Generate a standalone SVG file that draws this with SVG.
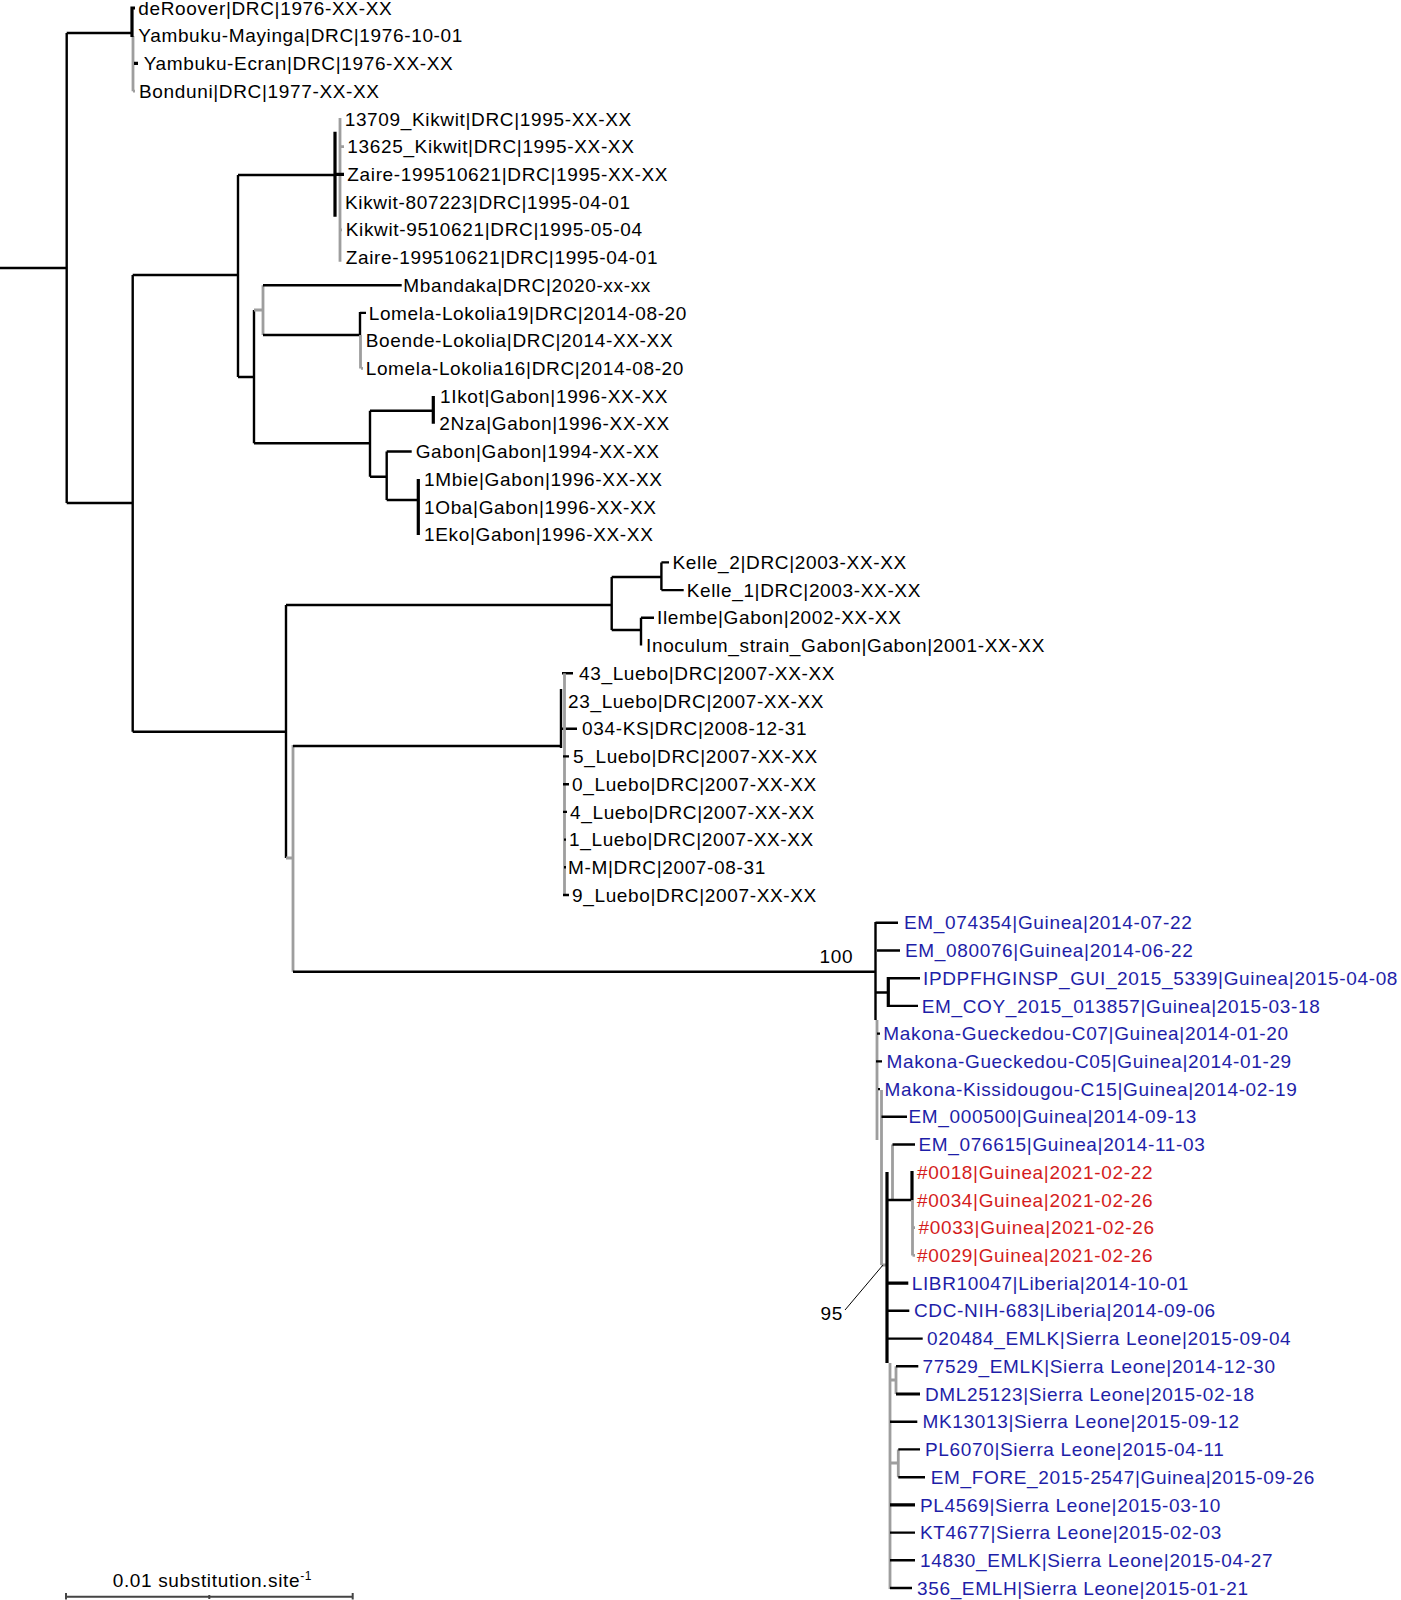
<svg xmlns="http://www.w3.org/2000/svg" width="1401" height="1600" viewBox="0 0 1401 1600">
<style>
text{font-family:"Liberation Sans",Arial,sans-serif;font-size:19px;letter-spacing:0.65px;fill:#000}
.b{fill:#1e1ea8}
.r{fill:#d41c1c}
.k{fill:none;stroke:#000;stroke-width:2.4}
.kt{fill:none;stroke:#000;stroke-width:3.2}
.g{fill:none;stroke:#9e9e9e;stroke-width:2.8}
.sc{fill:none;stroke:#444;stroke-width:2}
.lead{fill:none;stroke:#000;stroke-width:1}
</style>
<g id="connectors">
<path class="k" d="M0 268H66.7M66.7 33V503M66.7 33H132M66.7 503H132.7"/>
<path class="g" d="M133 36V91.2M133 91.2H135"/>
<path class="kt" d="M132 6.5V37M132 8H135M134 63.4H138"/>
<path class="k" d="M132.7 275V731.7M132.7 275H238M238 175V377M238 175H335"/>
<path class="g" d="M340 118V261.7M341 146.6H344M340 229.8H342"/>
<path class="kt" d="M335 131.7V216.7M335 174.3H344"/>
<path class="k" d="M238 377H254M254 310V443.3"/>
<path class="g" d="M254 310H263M263 285.2V335"/>
<path class="k" d="M263 285.2H401.7M263 335H360M360 312V335M360 312.9H366"/>
<path class="g" d="M360.5 335V368.4M361 368.4H363"/>
<path class="k" d="M254 443.3H370M370 410.7V476.7M370 410.7H433.3M370 476.7H386.7M386.7 451.5V500M386.7 451.5H411.7M386.7 500H418.3"/>
<path class="kt" d="M433.3 396.1V423.8M418.3 479V535"/>
<path class="k" d="M132.7 731.7H286M286 605V858M286 605H611.7M611.7 577V630M611.7 577H661.4M661.4 562.4V590.1M661.4 562.4H669M661.4 590.1H683.7M611.7 630H641M641 617.8V645.6M641 617.8H654"/>
<path class="g" d="M286 858H293M293 745V971.7"/>
<path class="k" d="M293 746H561M561 689V748M562 673.3H573M561 728.7H577"/>
<path class="g" d="M564.5 673.3V895"/>
<path class="k" d="M563 756.4H569M563 784.2H569M563 811.9H567M564 839.6H566M564 867.3H566M563 895H569"/>
<path class="k" d="M293 971.7H875M875.5 922V1020M875.5 922.8H898M877 950.5H900M876 992.5H888.3M888.3 978.2H920M888.3 1005.9H918"/>
<path class="kt" d="M888.3 977V1007"/>
<path class="g" d="M877 1020V1140M881.5 1090V1265M881.5 1265H887M892.5 1144.5V1200"/>
<path class="k" d="M877 1033.6H880M876 1061.4H882M878 1089.1H880M881.5 1116.8H907M892.5 1144.5H915M887 1200H912"/>
<path class="kt" d="M912 1171V1200"/>
<path class="g" d="M912.5 1200V1255.4M912.5 1227.7H915M912.5 1255.4H915"/>
<path class="kt" d="M887 1172V1363M887 1283.1H908.3"/>
<path class="k" d="M887 1310.8H909.3M887 1338.6H922.7"/>
<path class="g" d="M890 1363V1589M890 1380H896M896 1366.3V1394M890 1463H898.3M898.3 1449.4V1477.2"/>
<path class="k" d="M896 1366.3H918.3M890 1421.7H917.3M898.3 1449.4H920M898.3 1477.2H925M890 1532.6H915M890 1560.3H915M890 1588H912"/>
<path class="kt" d="M896 1394H920M890 1504.9H915"/>
<path class="lead" d="M845 1310L883 1265"/>
</g>
<g id="scale">
<path class="sc" d="M66 1596.7H352.7M66 1593V1599.5M352.7 1593V1599.5M209.3 1595V1599"/>
<text x="112.7" y="1587.3">0.01 substitution.site<tspan font-size="12" dy="-7">-1</tspan></text>
</g>
<g id="support">
<text x="819.5" y="963.3">100</text>
<text x="820.5" y="1320">95</text>
</g>
<g id="labels">
<text x="138.3" y="14.6">deRoover|DRC|1976-XX-XX</text>
<text x="138.3" y="42.3">Yambuku-Mayinga|DRC|1976-10-01</text>
<text x="143.7" y="70">Yambuku-Ecran|DRC|1976-XX-XX</text>
<text x="139" y="97.8">Bonduni|DRC|1977-XX-XX</text>
<text x="344.7" y="125.5">13709_Kikwit|DRC|1995-XX-XX</text>
<text x="347.3" y="153.2">13625_Kikwit|DRC|1995-XX-XX</text>
<text x="347.3" y="180.9">Zaire-199510621|DRC|1995-XX-XX</text>
<text x="345" y="208.6">Kikwit-807223|DRC|1995-04-01</text>
<text x="345.7" y="236.4">Kikwit-9510621|DRC|1995-05-04</text>
<text x="345.7" y="264.1">Zaire-199510621|DRC|1995-04-01</text>
<text x="403.3" y="291.8">Mbandaka|DRC|2020-xx-xx</text>
<text x="368.7" y="319.5">Lomela-Lokolia19|DRC|2014-08-20</text>
<text x="365.7" y="347.2">Boende-Lokolia|DRC|2014-XX-XX</text>
<text x="365.7" y="375">Lomela-Lokolia16|DRC|2014-08-20</text>
<text x="440" y="402.7">1Ikot|Gabon|1996-XX-XX</text>
<text x="439.3" y="430.4">2Nza|Gabon|1996-XX-XX</text>
<text x="415.7" y="458.1">Gabon|Gabon|1994-XX-XX</text>
<text x="424" y="485.8">1Mbie|Gabon|1996-XX-XX</text>
<text x="424" y="513.6">1Oba|Gabon|1996-XX-XX</text>
<text x="424" y="541.3">1Eko|Gabon|1996-XX-XX</text>
<text x="672.5" y="569">Kelle_2|DRC|2003-XX-XX</text>
<text x="686.7" y="596.7">Kelle_1|DRC|2003-XX-XX</text>
<text x="657" y="624.4">Ilembe|Gabon|2002-XX-XX</text>
<text x="646" y="652.2">Inoculum_strain_Gabon|Gabon|2001-XX-XX</text>
<text x="579" y="679.9">43_Luebo|DRC|2007-XX-XX</text>
<text x="568" y="707.6">23_Luebo|DRC|2007-XX-XX</text>
<text x="582" y="735.3">034-KS|DRC|2008-12-31</text>
<text x="573" y="763">5_Luebo|DRC|2007-XX-XX</text>
<text x="572" y="790.8">0_Luebo|DRC|2007-XX-XX</text>
<text x="570" y="818.5">4_Luebo|DRC|2007-XX-XX</text>
<text x="569" y="846.2">1_Luebo|DRC|2007-XX-XX</text>
<text x="568" y="873.9">M-M|DRC|2007-08-31</text>
<text x="572" y="901.6">9_Luebo|DRC|2007-XX-XX</text>
<text class="b" x="904" y="929.4">EM_074354|Guinea|2014-07-22</text>
<text class="b" x="905" y="957.1">EM_080076|Guinea|2014-06-22</text>
<text class="b" x="923" y="984.8">IPDPFHGINSP_GUI_2015_5339|Guinea|2015-04-08</text>
<text class="b" x="921.7" y="1012.5">EM_COY_2015_013857|Guinea|2015-03-18</text>
<text class="b" x="883.3" y="1040.2">Makona-Gueckedou-C07|Guinea|2014-01-20</text>
<text class="b" x="886.5" y="1068">Makona-Gueckedou-C05|Guinea|2014-01-29</text>
<text class="b" x="884.5" y="1095.7">Makona-Kissidougou-C15|Guinea|2014-02-19</text>
<text class="b" x="908.5" y="1123.4">EM_000500|Guinea|2014-09-13</text>
<text class="b" x="918.5" y="1151.1">EM_076615|Guinea|2014-11-03</text>
<text class="r" x="917" y="1178.8">#0018|Guinea|2021-02-22</text>
<text class="r" x="917" y="1206.6">#0034|Guinea|2021-02-26</text>
<text class="r" x="918.5" y="1234.3">#0033|Guinea|2021-02-26</text>
<text class="r" x="917" y="1262">#0029|Guinea|2021-02-26</text>
<text class="b" x="911.7" y="1289.7">LIBR10047|Liberia|2014-10-01</text>
<text class="b" x="914" y="1317.4">CDC-NIH-683|Liberia|2014-09-06</text>
<text class="b" x="927" y="1345.2">020484_EMLK|Sierra Leone|2015-09-04</text>
<text class="b" x="922.5" y="1372.9">77529_EMLK|Sierra Leone|2014-12-30</text>
<text class="b" x="925" y="1400.6">DML25123|Sierra Leone|2015-02-18</text>
<text class="b" x="922.5" y="1428.3">MK13013|Sierra Leone|2015-09-12</text>
<text class="b" x="925" y="1456">PL6070|Sierra Leone|2015-04-11</text>
<text class="b" x="930.7" y="1483.8">EM_FORE_2015-2547|Guinea|2015-09-26</text>
<text class="b" x="920" y="1511.5">PL4569|Sierra Leone|2015-03-10</text>
<text class="b" x="920" y="1539.2">KT4677|Sierra Leone|2015-02-03</text>
<text class="b" x="920" y="1566.9">14830_EMLK|Sierra Leone|2015-04-27</text>
<text class="b" x="917" y="1594.6">356_EMLH|Sierra Leone|2015-01-21</text>
</g>
</svg>
